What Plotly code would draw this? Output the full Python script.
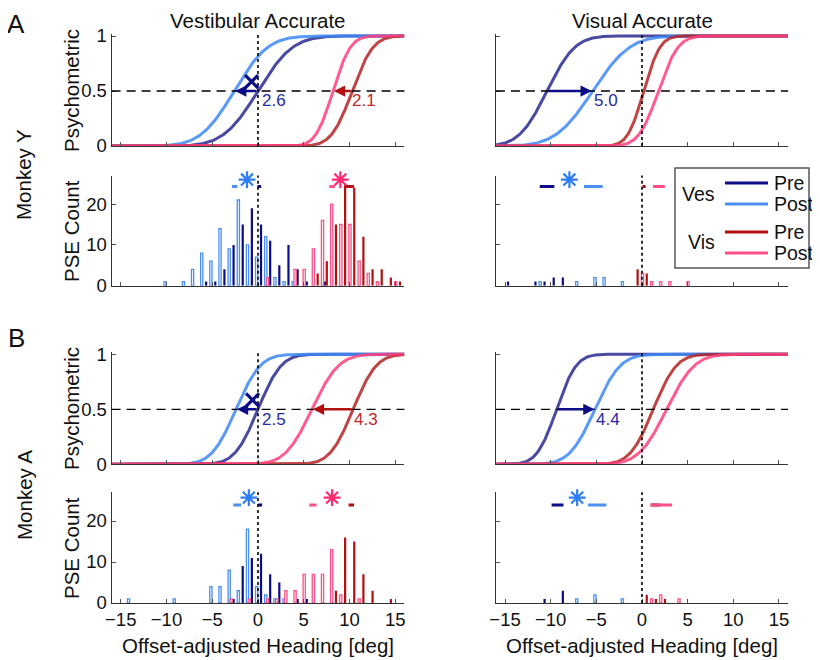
import math
import plotly.graph_objects as go

# page is rendered with an 8px body margin, so the figure is 8px smaller
OX, OY = 8, 8
W, H = 812, 652

# ---- histogram data: integer bin, count ----
# Monkey Y, vestibular accurate
yv_ves_post_bins = [-10, -8, -7, -6, -5, -4, -3, -2, -1, 0, 1, 2, 3, 4]
yv_ves_post_cnt = [1, 1, 4, 8, 6, 14, 9, 21, 10, 7, 12, 2, 1, 1]
yv_ves_pre_bins = [-6, -5, -4, -3, -2, -1, 0, 1, 2, 3, 4, 5, 7]
yv_ves_pre_cnt = [1, 1, 4, 10, 15, 19, 15, 11, 5, 10, 4, 1, 1]
yv_vis_post_bins = [1, 4, 5, 6, 7, 8, 9, 10, 11, 12, 13, 15]
yv_vis_post_cnt = [2, 4, 4, 9, 16, 20, 15, 15, 6, 3, 1, 1]
yv_vis_pre_bins = [6, 7, 8, 9, 10, 11, 12, 13, 14, 15]
yv_vis_pre_cnt = [3, 6, 15, 25, 24, 12, 4, 4, 2, 1]

# Monkey Y, visual accurate
yi_ves_pre_bins = [-15, -12, -11, -10, -9]
yi_ves_pre_cnt = [1, 1, 1, 2, 2]
yi_ves_post_bins = [-11, -7, -5, -4, -2]
yi_ves_post_cnt = [1, 1, 2, 2, 1]
yi_vis_pre_bins = [-1, 0]
yi_vis_pre_cnt = [4, 3]
yi_vis_post_bins = [0, 1, 2, 3, 5]
yi_vis_post_cnt = [3, 1, 1, 1, 1]

# Monkey A, vestibular accurate
av_ves_post_bins = [-14, -9, -5, -4, -3, -2, -1, 0, 1, 2, 3]
av_ves_post_cnt = [1, 1, 4, 4, 8, 3, 18, 4, 2, 1, 1]
av_ves_pre_bins = [-3, -2, -1, 0, 1, 2, 4, 5]
av_ves_pre_cnt = [1, 9, 11, 12, 7, 5, 1, 1]
av_vis_post_bins = [-3, -1, 1, 2, 3, 4, 5, 6, 7, 8, 9, 11]
av_vis_post_cnt = [1, 1, 1, 1, 3, 3, 7, 7, 7, 13, 2, 1]
av_vis_pre_bins = [8, 9, 10, 11, 12, 14]
av_vis_pre_cnt = [3, 16, 15, 7, 3, 1]

# Monkey A, visual accurate
ai_ves_pre_bins = [-11, -9]
ai_ves_pre_cnt = [1, 3]
ai_ves_post_bins = [-7, -5, -2]
ai_ves_post_cnt = [1, 2, 1]
ai_vis_pre_bins = [0, 1, 2]
ai_vis_pre_cnt = [2, 1, 1]
ai_vis_post_bins = [1, 2, 4]
ai_vis_post_cnt = [1, 2, 1]

# ---- psychometric fits: (PSE, sigma) for ves pre, ves post, vis pre, vis post ----
yv_fit = [(0.0, 3.0), (-2.6, 2.9), (10.3, 1.8), (8.2, 1.5)]
yi_fit = [(-10.4, 2.4), (-5.4, 3.2), (0.2, 1.4), (1.8, 1.7)]
av_fit = [(0.0, 2.0), (-2.4, 2.1), (10.4, 2.0), (5.9, 2.3)]
ai_fit = [(-9.35, 1.7), (-5.15, 2.2), (1.24, 2.0), (2.7, 2.4)]

# shift arrows: (cue, from, to, label, label x)
yv_arrows = [('ves', 0.0, -2.5, '2.6', 0.2), ('vis', 10.3, 8.3, '2.1', 10.1)]
yi_arrows = [('ves', -10.4, -5.5, '5.0', -5.5)]
av_arrows = [('ves', 0.0, -2.3, '2.5', 0.2), ('vis', 10.4, 6.0, '4.3', 10.3)]
ai_arrows = [('ves', -9.35, -5.2, '4.4', -5.3)]

# X marks on psychometric panels
yv_cross = (-0.7, 0.585)
av_cross = (-0.6, 0.585)

# mean PSE bars above histograms: (x0, x1) for ves pre, ves post, vis pre, vis post
yv_means = [(-0.05, 0.35), (-2.85, -2.25), (9.5, 10.5), (7.8, 8.4)]
yi_means = [(-11.2, -9.6), (-6.35, -4.3), (0.05, 0.4), (1.2, 2.5)]
av_means = [(0.0, 0.45), (-2.7, -1.85), (9.9, 10.5), (5.6, 6.4)]
ai_means = [(-9.9, -8.6), (-5.9, -3.9), (0.95, 2.0), (0.95, 3.3)]
# significance stars: (x, cue)
yv_stars = [(-1.2, 'ves'), (9.0, 'vis')]
yi_stars = [(-7.95, 'ves')]
av_stars = [(-1.0, 'ves'), (8.1, 'vis')]
ai_stars = [(-7.1, 'ves')]

NAVY = '#0c0c85'
LBLUE = '#4a8ff2'
DRED = '#b30f0f'
PINK = '#ff4f87'
CURVE = ['#2c2c95', '#3f8af7', '#b42626', '#ff3f7c']
STAR = {'ves': '#2f7df5', 'vis': '#ff2a72'}
FONT = 'Liberation Sans, Arial, sans-serif'
LABEL_SIZE = 20.5

X_GRID = [-16 + i * 0.1 for i in range(321)]


def px_x(p):
    return (p - OX) / W


def px_y(p):
    return 1 - (p - OY) / H


def cum_gauss(mu, sd):
    return [0.5 * (1 + math.erf((x - mu) / (sd * math.sqrt(2)))) for x in X_GRID]


fig = go.Figure()

cols = [(111.6, 404.4), (495.9, 788.1)]
rows = {'psyA': (33.8, 146.0), 'histA': (175.5, 285.7),
        'psyB': (352.1, 464.3), 'histB': (492.3, 603.0)}

panels = [
    (1, 'psyA', 0), (2, 'psyA', 1), (3, 'histA', 0), (4, 'histA', 1),
    (5, 'psyB', 0), (6, 'psyB', 1), (7, 'histB', 0), (8, 'histB', 1),
]

for n, row, col in panels:
    sx = '' if n == 1 else str(n)
    x0, x1 = cols[col]
    y0, y1 = rows[row]
    psy = row.startswith('psy')
    bottom = row == 'histB'
    fig.layout['xaxis' + sx] = dict(
        domain=[px_x(x0), px_x(x1)], anchor='y' + sx, range=[-16, 16],
        tickvals=[-15, -10, -5, 0, 5, 10, 15], showticklabels=bottom,
        ticks='inside', ticklen=4, tickcolor='#555', showline=True,
        linecolor='#333', linewidth=1, showgrid=False, zeroline=False,
        tickfont=dict(size=18.5, color='#111', family=FONT), automargin=False)
    fig.layout['yaxis' + sx] = dict(
        domain=[px_y(y1), px_y(y0)], anchor='x' + sx,
        range=[0, 1.02] if psy else [0, 27],
        tickvals=[0, 0.5, 1] if psy else [0, 10, 20],
        ticktext=['0', '0.5', '1'] if psy else ['0', '10', '20'],
        showticklabels=(col == 0), ticks='inside', ticklen=4, tickcolor='#555',
        showline=True, linecolor='#333', linewidth=1, showgrid=False,
        zeroline=False, tickfont=dict(size=18.5, color='#111', family=FONT),
        automargin=False)
    fig.add_shape(type='line', xref='x' + sx, yref='y' + sx + ' domain',
                  x0=0, x1=0, y0=0, y1=1, line=dict(color='black', width=1.6, dash='dot'))
    if psy:
        fig.add_shape(type='line', xref='x' + sx + ' domain', yref='y' + sx,
                      x0=0, x1=1, y0=0.5, y1=0.5,
                      line=dict(color='black', width=1.3, dash='9px,6px'))


def add_psy(sx, fit, arrows, cross):
    for (mu, sd), c in zip(fit, CURVE):
        fig.add_trace(go.Scatter(x=X_GRID, y=cum_gauss(mu, sd), mode='lines',
                                 line=dict(color=c, width=3), opacity=0.85,
                                 xaxis='x' + sx, yaxis='y' + sx, showlegend=False,
                                 hoverinfo='skip'))
    for kind, a, b, label, lx in arrows:
        colr = NAVY if kind == 'ves' else '#b01010'
        tcol = '#2a2aa0' if kind == 'ves' else '#c0282a'
        fig.add_annotation(x=b, y=0.5, ax=a, ay=0.5, xref='x' + sx, yref='y' + sx,
                           axref='x' + sx, ayref='y' + sx, showarrow=True,
                           arrowhead=2, arrowsize=0.9, arrowwidth=2.5,
                           arrowcolor=colr, text='')
        fig.add_annotation(x=lx, y=0.41, xref='x' + sx, yref='y' + sx, text=label,
                           showarrow=False, xanchor='left', yanchor='middle',
                           font=dict(size=17, color=tcol, family=FONT))
    if cross:
        fig.add_trace(go.Scatter(x=[cross[0]], y=[cross[1]], mode='markers',
                                 marker=dict(symbol='x-thin-open', size=13, color=NAVY,
                                             line=dict(color=NAVY, width=3.2)),
                                 xaxis='x' + sx, yaxis='y' + sx, showlegend=False))


def add_hist(sx, series, means, stars, y_mean, y_star):
    offsets = [-0.15, 0.33, 0.05, 0.52]
    styles = [(LBLUE, True), (NAVY, False), (PINK, True), (DRED, False)]
    for i in range(4):
        bins, cnt = series[i]
        colr, open_bar = styles[i]
        fig.add_trace(go.Bar(
            x=[b + offsets[i] for b in bins], y=cnt, width=0.24,
            marker=dict(color='white' if open_bar else colr,
                        line=dict(color=colr, width=1.3 if open_bar else 0)),
            xaxis='x' + sx, yaxis='y' + sx, showlegend=False))
    mean_cols = [NAVY, LBLUE, DRED, PINK]
    for (a, b), c in zip(means, mean_cols):
        fig.add_trace(go.Scatter(x=[a, b], y=[y_mean, y_mean], mode='lines',
                                 line=dict(color=c, width=3), xaxis='x' + sx,
                                 yaxis='y' + sx, showlegend=False))
    for x, k in stars:
        fig.add_trace(go.Scatter(x=[x], y=[y_star], mode='markers',
                                 marker=dict(symbol='asterisk-open', size=14, color=STAR[k],
                                             line=dict(color=STAR[k], width=2.2)),
                                 xaxis='x' + sx, yaxis='y' + sx, showlegend=False,
                                 cliponaxis=False))


add_psy('', yv_fit, yv_arrows, yv_cross)
add_psy('2', yi_fit, yi_arrows, None)
add_psy('5', av_fit, av_arrows, av_cross)
add_psy('6', ai_fit, ai_arrows, None)

add_hist('3', [(yv_ves_post_bins, yv_ves_post_cnt), (yv_ves_pre_bins, yv_ves_pre_cnt),
               (yv_vis_post_bins, yv_vis_post_cnt), (yv_vis_pre_bins, yv_vis_pre_cnt)],
         yv_means, yv_stars, 24.3, 26.0)
add_hist('4', [(yi_ves_post_bins, yi_ves_post_cnt), (yi_ves_pre_bins, yi_ves_pre_cnt),
               (yi_vis_post_bins, yi_vis_post_cnt), (yi_vis_pre_bins, yi_vis_pre_cnt)],
         yi_means, yi_stars, 24.3, 26.0)
add_hist('7', [(av_ves_post_bins, av_ves_post_cnt), (av_ves_pre_bins, av_ves_pre_cnt),
               (av_vis_post_bins, av_vis_post_cnt), (av_vis_pre_bins, av_vis_pre_cnt)],
         av_means, av_stars, 23.9, 25.7)
add_hist('8', [(ai_ves_post_bins, ai_ves_post_cnt), (ai_ves_pre_bins, ai_ves_pre_cnt),
               (ai_vis_post_bins, ai_vis_post_cnt), (ai_vis_pre_bins, ai_vis_pre_cnt)],
         ai_means, ai_stars, 23.9, 25.7)


def text(px, py, s, size=LABEL_SIZE, angle=0, color='#111', xanchor='center'):
    fig.add_annotation(x=px_x(px), y=px_y(py), xref='paper', yref='paper', text=s,
                       showarrow=False, textangle=angle, xanchor=xanchor,
                       yanchor='middle', font=dict(size=size, color=color, family=FONT))


text(16, 24, 'A', size=26)
text(16, 338, 'B', size=26)
text(258, 21, 'Vestibular Accurate')
text(642, 21, 'Visual Accurate')
text(24, 175, 'Monkey Y', angle=-90)
text(24, 495, 'Monkey A', angle=-90)
for yc in (91, 409):
    text(71, yc, 'Psychometric', angle=-90)
for yc in (231, 548):
    text(71, yc, 'PSE Count', angle=-90)
for xc in (258, 642):
    text(xc, 645, 'Offset-adjusted Heading [deg]')

# legend box
fig.add_shape(type='rect', xref='paper', yref='paper', x0=px_x(675), x1=px_x(809),
              y0=px_y(268), y1=px_y(168), line=dict(color='#555', width=1.5),
              fillcolor='white', layer='above')
legend_rows = [(183, NAVY, 'Pre'), (204, LBLUE, 'Post'), (232, DRED, 'Pre'), (253, PINK, 'Post')]
for yl, c, lab in legend_rows:
    fig.add_shape(type='line', xref='paper', yref='paper', x0=px_x(725), x1=px_x(768),
                  y0=px_y(yl), y1=px_y(yl), line=dict(color=c, width=3), layer='above')
    text(772, yl, lab, size=19.5, xanchor='left')
text(717, 194, 'Ves', size=19.5, xanchor='right')
text(717, 242, 'Vis', size=19.5, xanchor='right')

fig.update_layout(width=W, height=H, margin=dict(l=0, r=0, t=0, b=0),
                  plot_bgcolor='white', paper_bgcolor='white', barmode='overlay',
                  showlegend=False, font=dict(family=FONT))

fig.write_html("out.html")
